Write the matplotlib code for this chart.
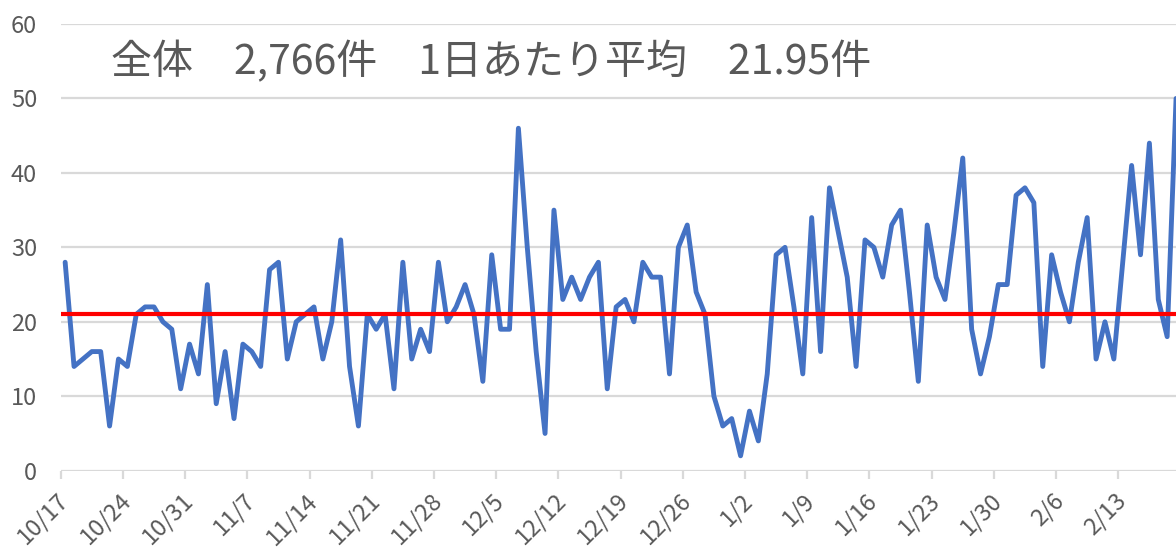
import matplotlib
matplotlib.use("Agg")
import matplotlib.pyplot as plt
from matplotlib.ticker import FixedLocator, NullFormatter
import datetime as dt

plt.rcParams['font.family'] = ['Noto Sans CJK JP', 'DejaVu Sans']

start_date = dt.date(2021, 10, 17)
counts = [28, 14, 15, 16, 16, 6, 15, 14, 21, 22,
          22, 20, 19, 11, 17, 13, 25, 9, 16, 7,
          17, 16, 14, 27, 28, 15, 20, 21, 22, 15,
          20, 31, 14, 6, 21, 19, 21, 11, 28, 15,
          19, 16, 28, 20, 22, 25, 21, 12, 29, 19,
          19, 46, 30, 16, 5, 35, 23, 26, 23, 26,
          28, 11, 22, 23, 20, 28, 26, 26, 13, 30,
          33, 24, 21, 10, 6, 7, 2, 8, 4, 13,
          29, 30, 22, 13, 34, 16, 38, 32, 26, 14,
          31, 30, 26, 33, 35, 24, 12, 33, 26, 23,
          32, 42, 19, 13, 18, 25, 25, 37, 38, 36,
          14, 29, 24, 20, 28, 34, 15, 20, 15, 28,
          41, 29, 44, 23, 18, 50]
average_line = 21
title_text = "全体　2,766件　1日あたり平均　21.95件"
y_ticks = [0, 10, 20, 30, 40, 50, 60]

dates = [start_date + dt.timedelta(days=i) for i in range(len(counts))]
labels = [f"{d.month}/{d.day}" for d in dates]
xs = list(range(len(counts)))

W, H = 1176, 550
fig = plt.figure(figsize=(W / 100, H / 100), dpi=100)
left_px, right_px = 60.7, 1180.5
bottom_px, top_px = 470.7, 24.0
ax = fig.add_axes([left_px / W, (H - bottom_px) / H,
                   (right_px - left_px) / W, (bottom_px - top_px) / H])

grid_c = '#d9d9d9'
text_c = '#595959'

for y in y_ticks:
    ax.axhline(y, color=grid_c, lw=1.6, zorder=0)

ax.plot(xs, counts, color='#4472C4', lw=3.5, solid_joinstyle='round',
        solid_capstyle='round', zorder=3, clip_on=False)
ax.axhline(average_line, color='#FF0000', lw=3.0, zorder=4)

ax.set_xlim(-0.5, len(counts) - 0.5)
ax.set_ylim(0, 60)
for s in ax.spines.values():
    s.set_visible(False)

ax.set_yticks(y_ticks)
ax.set_yticklabels([str(v) for v in y_ticks])
ax.tick_params(axis='y', length=0, pad=17, labelsize=17, labelcolor=text_c)

lab_pos = xs[::7]
ax.set_xticks(lab_pos)
ax.set_xticklabels([labels[i] for i in lab_pos], rotation=45, ha='right',
                   va='center', rotation_mode='anchor')
ax.tick_params(axis='x', which='major', length=0, pad=19, labelsize=17,
               labelcolor=text_c)
ax.xaxis.set_minor_locator(FixedLocator([p - 0.5 for p in lab_pos]))
ax.xaxis.set_minor_formatter(NullFormatter())
ax.tick_params(axis='x', which='minor', length=6, width=1.6, color=grid_c)

fig.text(111 / W, 1 - 62 / H, title_text, fontsize=29.5, color=text_c,
         ha='left', va='center')

fig.savefig('out.png', dpi=100)
